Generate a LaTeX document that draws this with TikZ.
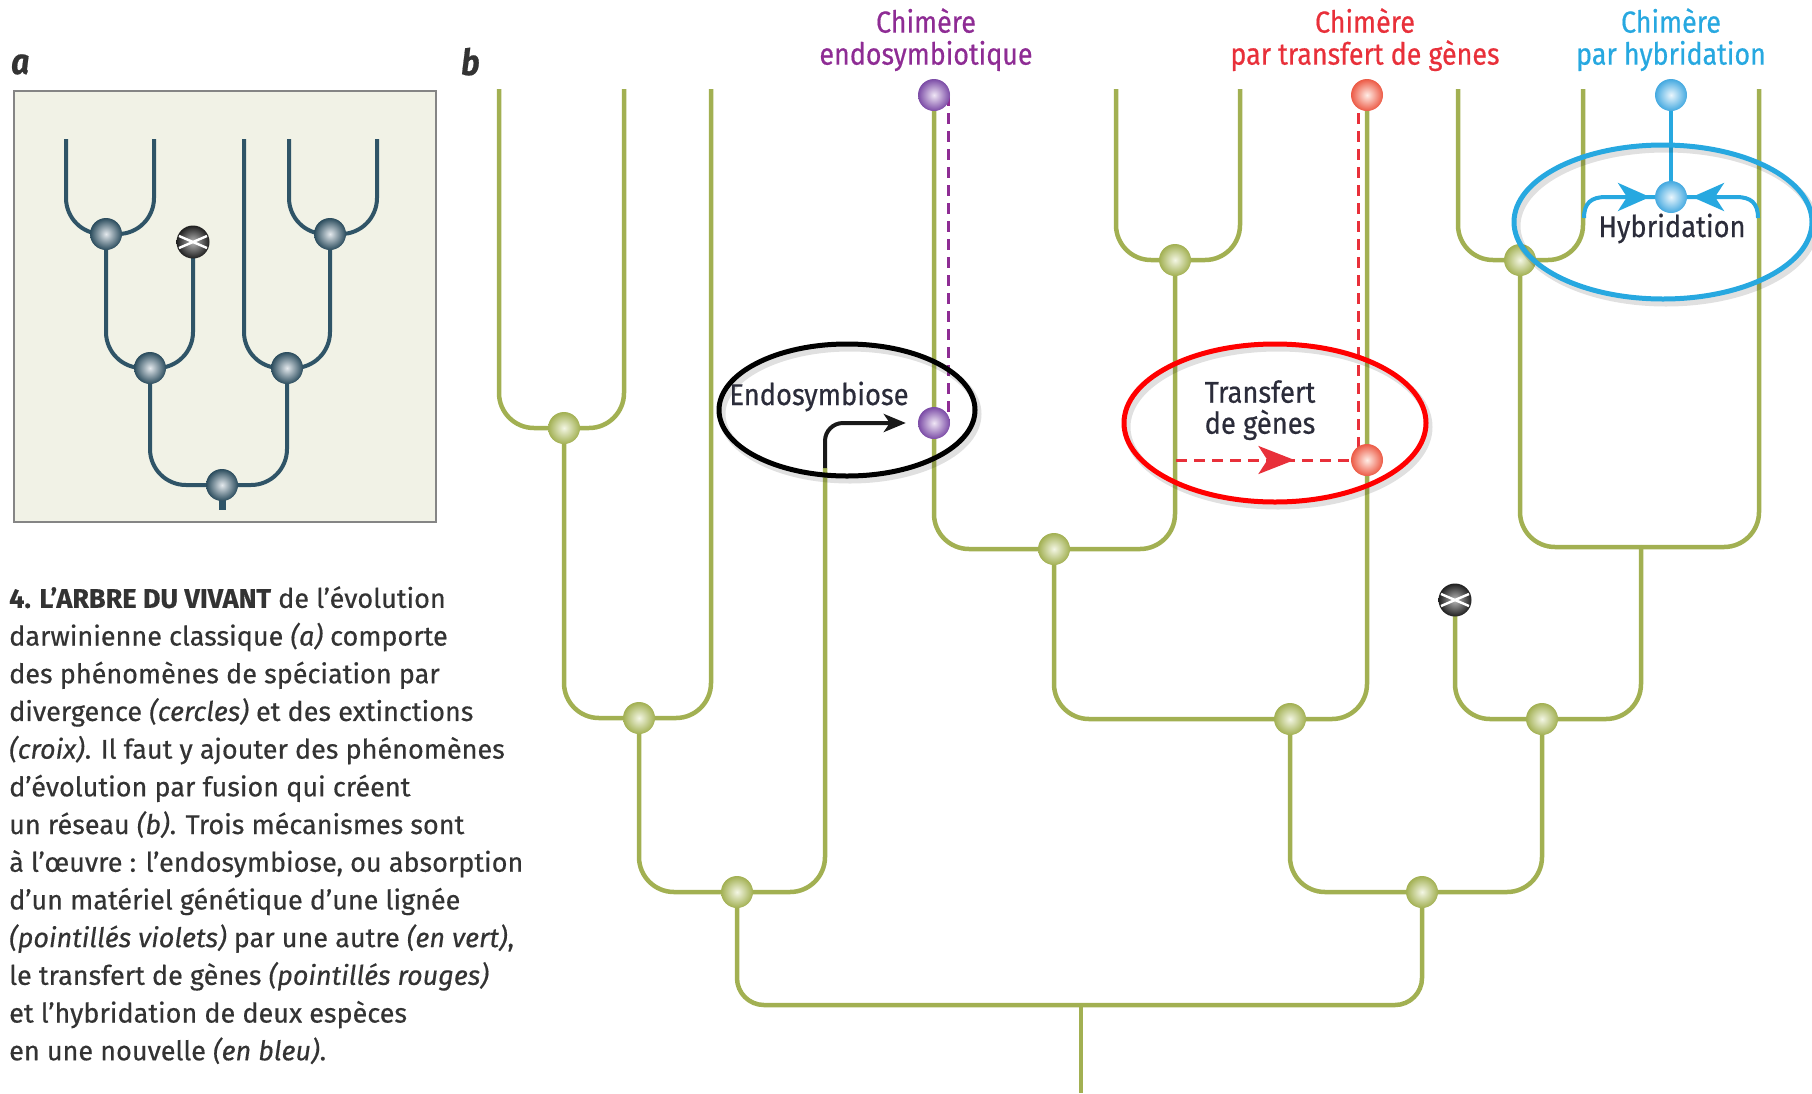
\documentclass[tikz,border=0pt]{standalone}
\usepackage{fontspec}
\setmainfont{Fira Sans}[FakeStretch=0.88, FakeBold=0.5]
\newfontfamily\capfont{Fira Sans}[FakeStretch=1.0, FakeBold=0.45]
\newfontfamily\inlabfont{Fira Sans}[FakeStretch=0.91, FakeBold=0.5]
\usetikzlibrary{arrows.meta,decorations.markings}
\definecolor{vertb}{HTML}{A2B052}
\definecolor{vertc}{HTML}{F3F6E4}
\definecolor{ardoise}{HTML}{2F5467}
\definecolor{ardoisec}{HTML}{E4E9ED}
\definecolor{fond}{HTML}{F1F2E6}
\definecolor{bord}{HTML}{858585}
\definecolor{violet2}{HTML}{8E2C94}
\definecolor{violetn}{HTML}{7B4BA6}
\definecolor{violetc}{HTML}{EFE6F5}
\definecolor{rouge2}{HTML}{E8303A}
\definecolor{rougen}{HTML}{EC5A45}
\definecolor{rougec}{HTML}{FFEDE6}
\definecolor{bleu2}{HTML}{27A8E0}
\definecolor{bleun}{HTML}{44A9E0}
\definecolor{bleuc}{HTML}{EAF6FD}
\definecolor{encre}{HTML}{2B2C3A}
\definecolor{legende}{HTML}{333333}
\pgfdeclarelayer{bg}
\pgfsetlayers{bg,main}
\tikzset{
  branch/.style={draw=vertb, line width=4.5pt, rounded corners=35pt},
  abranch/.style={draw=ardoise, line width=4pt, rounded corners=36pt},
  sphere/.style={circle, inner sep=0pt, minimum size=32pt},
  gnode/.style={sphere, inner color=vertc, outer color=vertb},
  anode/.style={sphere, inner color=ardoisec, outer color=ardoise!90!black},
  pnode/.style={sphere, inner color=violetc, outer color=violetn},
  rnode/.style={sphere, inner color=rougec, outer color=rougen},
  bnode/.style={sphere, inner color=bleuc, outer color=bleun},
  xnode/.style={sphere, minimum size=33pt, inner color=gray!55, outer color=black!88,
    path picture={
      \draw[white, line width=2.4pt]
        ([shift={(-14pt,-6pt)}]path picture bounding box.center) --
        ([shift={(14pt,6pt)}]path picture bounding box.center);
      \draw[white, line width=2.4pt]
        ([shift={(-14pt,6pt)}]path picture bounding box.center) --
        ([shift={(14pt,-6pt)}]path picture bounding box.center);}},
  lab/.style={font=\fontsize{30.5}{32}\selectfont, align=center, inner sep=0pt},
  inlab/.style={font=\inlabfont\fontsize{30}{31}\selectfont, align=center, inner sep=0pt, text=encre},
  pdash/.style={draw=violet2, line width=3pt, dash pattern=on 11pt off 7pt},
  rdash/.style={draw=rouge2, line width=3pt, dash pattern=on 11pt off 7pt},
  bline/.style={draw=bleu2, line width=4pt},
  ring/.style={line width=5pt},
  ringshadow/.style={line width=7pt, draw=black, opacity=0.12},
}
\begin{document}
\begin{tikzpicture}[x=1pt, y=-1pt]
\useasboundingbox (0,0) rectangle (1812,1093);

% ---------------- panel a ----------------
\node[anchor=base west, inner sep=0pt, text=legende, font=\fontsize{36}{36}\selectfont\bfseries\itshape] (la) at (11,74) {a};

\coordinate (ta1) at (66,139);
\coordinate (ta2) at (154,139);
\coordinate (ta3) at (244,139);
\coordinate (ta4) at (289,139);
\coordinate (ta5) at (377,139);
\coordinate (tast) at (222,510);
\node[anode] (a1) at (106,234) {};
\node[xnode] (ax) at (193,242) {};
\node[anode] (a2) at (150,368) {};
\node[anode] (a3) at (330,234) {};
\node[anode] (a4) at (287,368) {};
\node[anode] (a0) at (222,485) {};
\begin{pgfonlayer}{bg}
  \draw[draw=bord, fill=fond, line width=2.5pt] (14,91) rectangle (436,522);
  \draw[abranch] (ta1) |- (a1.center);
  \draw[abranch] (ta2) |- (a1.center);
  \draw[abranch] (a1.center) |- (a2.center);
  \draw[abranch] (ax.center) |- (a2.center);
  \draw[abranch] (ta4) |- (a3.center);
  \draw[abranch] (ta5) |- (a3.center);
  \draw[abranch] (ta3) |- (a4.center);
  \draw[abranch] (a3.center) |- (a4.center);
  \draw[abranch] (a2.center) |- (a0.center);
  \draw[abranch] (a4.center) |- (a0.center);
  \draw[draw=ardoise, line width=7pt] (a0.center) -- (tast);
\end{pgfonlayer}

% ---------------- caption ----------------
\node[anchor=north west, align=left, inner sep=0pt, text=legende,
      font=\capfont\fontsize{27}{37.7}\selectfont] (cap) at (9,586)
{{\bfseries 4. L’ARBRE DU VIVANT} de l’évolution\\
darwinienne classique \textit{(a)} comporte\\
des phénomènes de spéciation par\\
divergence \textit{(cercles)} et des extinctions\\
\textit{(croix)}. Il faut y ajouter des phénomènes\\
d’évolution par fusion qui créent\\
un réseau \textit{(b)}. Trois mécanismes sont\\
à l’œuvre : l’endosymbiose, ou absorption\\
d’un matériel génétique d’une lignée\\
\textit{(pointillés violets)} par une autre \textit{(en vert)},\\
le transfert de gènes \textit{(pointillés rouges)}\\
et l’hybridation de deux espèces\\
en une nouvelle \textit{(en bleu)}.};

% ---------------- panel b ----------------
\node[anchor=base west, inner sep=0pt, text=legende, font=\fontsize{36}{36}\selectfont\bfseries\itshape] (lb) at (461,75) {b};

\coordinate (l1) at (499,89);
\coordinate (l2) at (624,89);
\coordinate (l3) at (711,89);
\coordinate (l5) at (1116,89);
\coordinate (l6) at (1240,89);
\coordinate (l8) at (1458,89);
\coordinate (l9) at (1583,89);
\coordinate (l10) at (1759,89);
\coordinate (eS) at (825,468);
\coordinate (jR) at (1641,547);
\coordinate (jroot) at (1081,1005);
\coordinate (bot) at (1081,1093);

\node[gnode] (nA) at (564,428) {};
\node[gnode] (nB) at (639,718) {};
\node[gnode] (nC) at (737,892) {};
\node[gnode] (nD) at (1175,260) {};
\node[gnode] (nE) at (1054,549) {};
\node[gnode] (nF) at (1290,719) {};
\node[gnode] (nG) at (1520,260) {};
\node[gnode] (nH) at (1542,719) {};
\node[gnode] (nI) at (1422,892) {};
\node[xnode] (xb) at (1455,600) {};
\node[pnode] (pT) at (934,95) {};
\node[pnode] (pB) at (934,423) {};
\node[rnode] (rT) at (1367,95) {};
\node[rnode] (rB) at (1367,460) {};
\node[bnode] (hT) at (1671,95) {};
\node[bnode] (hN) at (1671,197) {};

\begin{pgfonlayer}{bg}
  \draw[branch] (l1) |- (nA.center);
  \draw[branch] (l2) |- (nA.center);
  \draw[branch] (nA.center) |- (nB.center);
  \draw[branch] (l3) |- (nB.center);
  \draw[branch] (nB.center) |- (nC.center);
  \draw[branch] (eS) |- (nC.center);
  \draw[branch, rounded corners=27pt] (nC.center) |- (jroot);
  \draw[branch, rounded corners=27pt] (nI.center) |- (jroot);
  \draw[branch] (jroot) -- (bot);
  \draw[branch] (l5) |- (nD.center);
  \draw[branch] (l6) |- (nD.center);
  \draw[branch] (pT.center) |- (nE.center);
  \draw[branch] (nD.center) |- (nE.center);
  \draw[branch] (nE.center) |- (nF.center);
  \draw[branch] (rT.center) |- (nF.center);
  \draw[branch] (nF.center) |- (nI.center);
  \draw[branch] (nH.center) |- (nI.center);
  \draw[branch] (xb.center) |- (nH.center);
  \draw[branch] (jR) |- (nH.center);
  \draw[branch] (l8) |- (nG.center);
  \draw[branch] (l9) |- (nG.center);
  \draw[branch] (nG.center) |- (jR);
  \draw[branch] (l10) |- (jR);
  % endosymbiosis
  \draw[pdash] ([xshift=14pt]pT.center) -- ([xshift=14pt]pB.center);
  % gene transfer
  \draw[rdash] ([xshift=-9pt]rT.center) -- ([xshift=-9pt]rB.center);
  \coordinate (rs) at (1176,460);
  \draw[rdash, postaction={decorate}, decoration={markings,
        mark=at position 0.62 with {\arrow[rouge2]{Stealth[length=36pt,width=28pt,inset=9pt]}}}]
        (rs) -- (rB.center);
  % hybridation
  \draw[bline] (hT.center) -- (hN.center);
  \coordinate (hl) at (1584,218);
  \coordinate (hl2) at (1606,197);
  \coordinate (hltip) at (1650,197);
  \coordinate (hr) at (1758,218);
  \coordinate (hr2) at (1736,197);
  \coordinate (hrtip) at (1692,197);
  \draw[bline] (hl) .. controls (1584,203) and (1591,197) .. (hl2) -- (hN.center);
  \draw[bline] (hr) .. controls (1758,203) and (1751,197) .. (hr2) -- (hN.center);
  \draw[bline, -{Stealth[length=32pt,width=28pt,inset=9pt]}] (hl2) -- (hltip);
  \draw[bline, -{Stealth[length=32pt,width=28pt,inset=9pt]}] (hr2) -- (hrtip);
\end{pgfonlayer}

% endosymbiosis arrow
\draw[draw=black!90, line width=4pt, rounded corners=18pt, -{Stealth[length=22pt,width=18pt,inset=6pt]}, shorten >=12pt]
  (eS) |- (pB.west);

% rings
\draw[ringshadow] (850,414) ellipse [x radius=128pt, y radius=66pt];
\draw[ringshadow] (1278,427) ellipse [x radius=151pt, y radius=79pt];
\draw[ringshadow] (1666,226) ellipse [x radius=149pt, y radius=77pt];
\draw[ring, draw=black] (847,410) ellipse [x radius=128pt, y radius=66pt];
\draw[ring, draw=red] (1275,423) ellipse [x radius=151pt, y radius=79pt];
\draw[ring, draw=bleu2] (1663,222) ellipse [x radius=149pt, y radius=77pt];

% labels
\node[lab, text=violet2, anchor=north] (tp) at (926,8) {Chimère\\endosymbiotique};
\node[lab, text=rouge2, anchor=north] (tr) at (1365,8) {Chimère\\par transfert de gènes};
\node[lab, text=bleu2, anchor=north] (tb) at (1671,8) {Chimère\\par hybridation};
\node[inlab, anchor=base] (te) at (819,405) {Endosymbiose};
\node[inlab, anchor=north] (tt) at (1260,380) {Transfert\\de gènes};
\node[inlab, anchor=base] (th) at (1672,237) {Hybridation};
\end{tikzpicture}
\end{document}
